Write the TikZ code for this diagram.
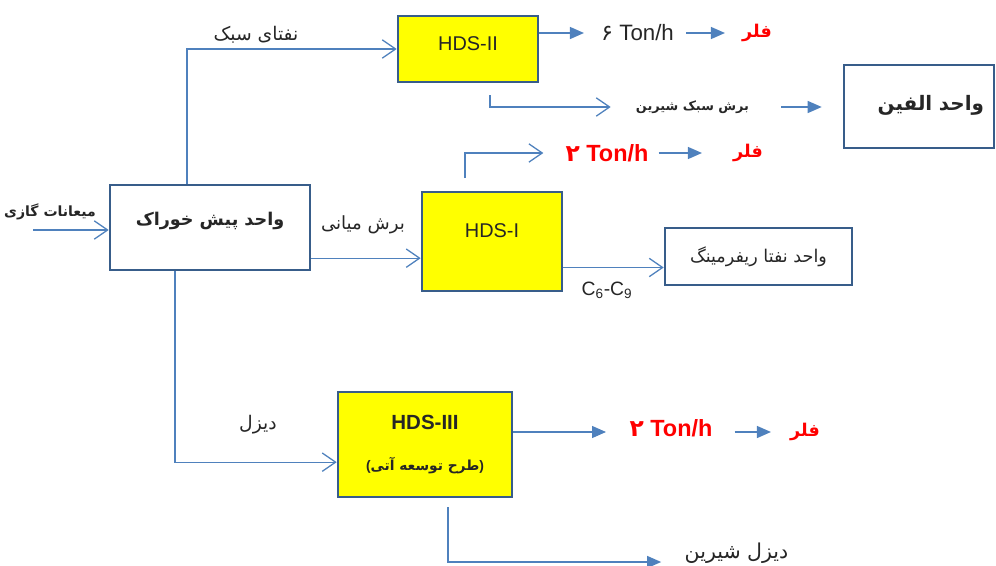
\documentclass[tikz,border=0pt]{standalone}
\usepackage{fontspec}
\setmainfont{Liberation Sans}
\newfontfamily\fafont[Script=Arabic]{DejaVu Sans}
\TeXXeTstate=1
\usepackage{tikz}
\usetikzlibrary{positioning,arrows.meta,calc}
\definecolor{FlowBlue}{HTML}{4F81BD}
\definecolor{BoxEdge}{HTML}{385D8A}
\definecolor{UnitYellow}{HTML}{FFFF00}
\definecolor{FlareRed}{HTML}{FF0000}
\definecolor{TextDark}{HTML}{262626}
\newcommand{\fa}[1]{{\fafont\beginR #1\endR}}

\tikzset{
  unitbox/.style={draw=BoxEdge, line width=2.2pt, fill=white, text=TextDark, inner sep=0pt},
  hdsbox/.style={unitbox, fill=UnitYellow},
  flow/.style={draw=FlowBlue, line width=1.1pt},
  openflow/.style={flow, -{Straight Barb[length=4mm,width=5.5mm]}},
  fillflow/.style={flow, -{Triangle[length=4.2mm,width=3.6mm]}},
  lbl/.style={text=TextDark, inner sep=0pt, font=\fontsize{16}{18}\selectfont},
  latin/.style={text=TextDark, inner sep=0pt, font=\fontsize{19}{22}\selectfont},
  flare/.style={text=FlareRed, inner sep=0pt, font=\fontsize{15}{18}\selectfont\bfseries},
}

\begin{document}
\begin{tikzpicture}[x=0.3mm, y=-0.3mm]
  \useasboundingbox (0,0) rectangle (996,566);

  % units
  \node[unitbox, minimum width=60mm, minimum height=25.5mm, text depth=5mm,
        font=\fontsize{15}{18}\selectfont\bfseries] (feed) at (210,227.5) {\fa{واحد پیش خوراک}};
  \node[hdsbox, minimum width=42mm, minimum height=19.8mm, text depth=3mm,
        font=\fontsize{17}{20}\selectfont] (hds2) at (468,49) {HDS-II};
  \node[hdsbox, minimum width=42mm, minimum height=29.7mm, text depth=6.6mm,
        font=\fontsize{17}{20}\selectfont] (hds1) at (492,241.5) {HDS-I};
  \node[hdsbox, minimum width=52.2mm, minimum height=31.5mm, align=center,
        font=\fontsize{17.5}{20}\selectfont\bfseries] (hds3) at (425,444.5)
        {HDS-III\\[5mm]{\fontsize{11.8}{14}\selectfont(\fa{طرح توسعه آتی})}};
  \node[unitbox, inner xsep=3mm, text width=39mm, align=right, minimum height=24.9mm, text depth=2mm,
        font=\fontsize{17}{20}\selectfont\bfseries] (olefin) at (919,106.5) {\fa{واحد الفین}};
  \node[unitbox, minimum width=56.1mm, minimum height=17.1mm,
        font=\fontsize{15}{18}\selectfont] (reform) at (758.5,256.5) {\fa{واحد نفتا ریفرمینگ}};

  % stream labels
  \node[lbl, font=\fontsize{12}{14}\selectfont\bfseries] (feedlbl) at (50,212) {\fa{میعانات گازی}};
  \node[lbl] (lightnaphtha) at (256,35) {\fa{نفتای سبک}};
  \node[lbl, font=\fontsize{15.5}{18}\selectfont] (midcut) at (363,225) {\fa{برش میانی}};
  \node[lbl] (diesel) at (258,425) {\fa{دیزل}};
  \node[latin, font=\fontsize{16.5}{19}\selectfont] (c69) at (607,290) {C\textsubscript{6}-C\textsubscript{9}};
  \node[lbl, font=\fontsize{11}{13}\selectfont\bfseries] (lightcut) at (692.5,107) {\fa{برش سبک شیرین}};
  \node[lbl, font=\fontsize{17.5}{20}\selectfont] (sweetdiesel) at (736.5,553) {\fa{دیزل شیرین}};

  % flare rates
  \node[latin] (ton1) at (637.5,33) {{\fafont ۶}~Ton/h};
  \node[flare] (flare1) at (757,33) {\fa{فلر}};
  \node[flare, font=\fontsize{20}{23}\selectfont\bfseries] (ton2) at (607,153) {{\fafont ۲}~Ton/h};
  \node[flare] (flare2) at (748,153) {\fa{فلر}};
  \node[flare, font=\fontsize{20}{23}\selectfont\bfseries] (ton3) at (671,428) {{\fafont ۲}~Ton/h};
  \node[flare] (flare3) at (805,432) {\fa{فلر}};

  % connectors
  \coordinate (feedin) at (33,230);
  \coordinate (cut2) at (490,95);
  \coordinate (cut1) at (465,178);
  \coordinate (cut3) at (448,507);

  \draw[openflow] (feedin) -- (feedin -| feed.west);
  \draw[openflow] ([xshift=-6.9mm]feed.north) |- (hds2.west);
  \draw[fillflow] (hds2.east |- ton1) -- ([xshift=-5.1mm]ton1.west);
  \draw[fillflow] ([xshift=3.6mm]ton1.east) -- ([xshift=-5.1mm]flare1.west |- ton1);
  \draw[openflow] (cut2) |- ([xshift=-7.5mm]lightcut.west);
  \draw[fillflow] ([xshift=9.6mm]lightcut.east) -- ([xshift=-6.3mm]olefin.west |- lightcut);
  \draw[openflow] (cut1) |- ([xshift=-6.6mm]ton2.west);
  \draw[fillflow] ([xshift=3mm]ton2.east) -- ([xshift=-9.3mm]flare2.west);
  \draw[openflow] ([yshift=-9.2mm]feed.east) -- ([yshift=-9.2mm]feed.east -| hds1.west);
  \draw[openflow] ([yshift=-3.3mm]reform.west -| hds1.east) -- ([yshift=-3.3mm]reform.west);
  \draw[openflow] ([xshift=-10.5mm]feed.south) |- ([yshift=-5.3mm]hds3.west);
  \draw[fillflow] (hds3.east |- flare3) -- ([xshift=-7mm]ton3.west |- flare3);
  \draw[fillflow] ([xshift=6.6mm]ton3.east |- flare3) -- ([xshift=-5.7mm]flare3.west);
  \draw[fillflow] (cut3) |- ([xshift=-7mm,yshift=-2.7mm]sweetdiesel.west);
\end{tikzpicture}
\end{document}
